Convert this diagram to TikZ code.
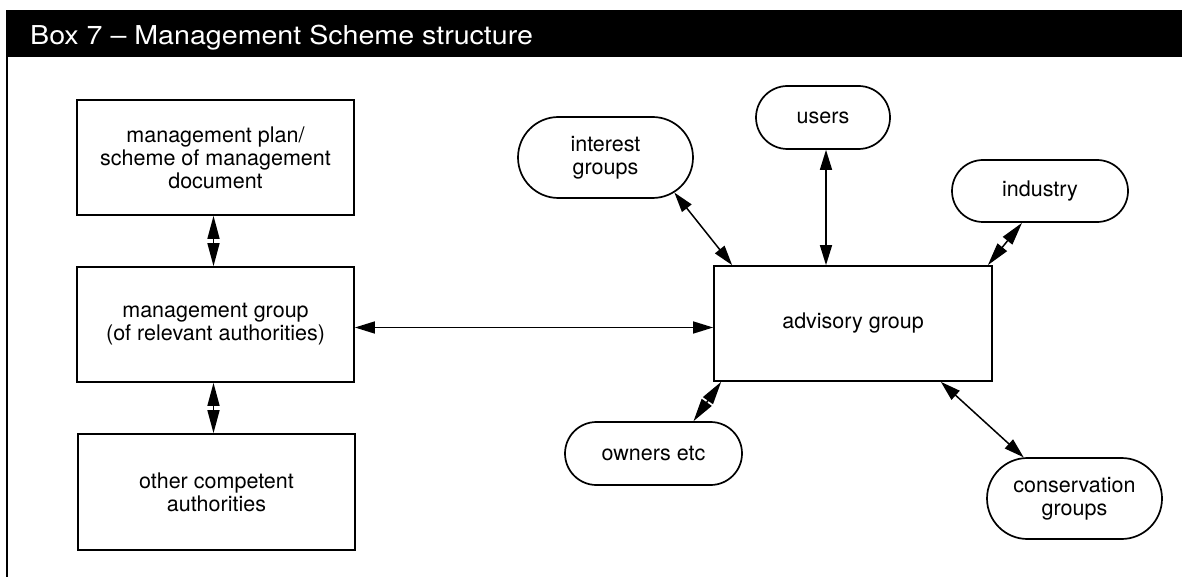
\documentclass[tikz,border=0pt]{standalone}
\usepackage{fontspec}
\setmainfont{TeX Gyre Heros}
\usetikzlibrary{arrows.meta,shapes.misc,calc}
\begin{document}
\begin{tikzpicture}[x=1pt,y=-1pt,
  txt/.style={font=\fontsize{21.5}{23}\selectfont, align=center, inner sep=0pt},
  sqbox/.style={txt, draw, line width=1.7pt, rectangle, minimum width=277pt, minimum height=115pt},
  rbox/.style={txt, draw, line width=1.7pt, rounded rectangle, rounded rectangle arc length=180},
  arr/.style={line width=1.5pt, {Triangle[length=20pt,width=12pt]}-{Triangle[length=20pt,width=12pt]}},
  sarr/.style={line width=1.5pt, {Triangle[length=23pt,width=12pt]}-{Triangle[length=23pt,width=12pt]}}
]
\useasboundingbox (0,0) rectangle (1182,577);
% header
\fill[black] (6,10) rectangle (1182,57);
\node[anchor=base west, inner sep=0pt, text=white, font=\fontsize{26}{28}\selectfont] (title) at (30,45) {\scalebox{1.1}[1]{Box 7 -- Management Scheme structure}};
\coordinate (ltop) at (7,57);
\coordinate (lbot) at (7,577);
\draw[line width=2pt] (ltop) -- (lbot);

% left column
\node[sqbox] (mp) at (215.5,157.5) {management plan/\\scheme of management\\document};
\node[sqbox] (mg) at (215.5,324.5) {management group\\(of relevant authorities)};
\node[sqbox, minimum height=116pt] (oca) at (216.5,492) {other competent\\authorities};

% advisory
\node[sqbox, minimum width=278pt] (adv) at (853,323.5) {advisory group};

% rounded
\node[rbox, minimum width=175pt, minimum height=81pt] (ig) at (605.5,157.5) {interest\\groups};
\node[rbox, minimum width=134pt, minimum height=63pt] (usr) at (823,117.5) {users};
\node[rbox, minimum width=176pt, minimum height=62pt] (ind) at (1040,191) {industry};
\node[rbox, minimum width=177pt, minimum height=63pt] (own) at (653.5,453.5) {owners etc};
\node[rbox, minimum width=175pt, minimum height=81pt] (cons) at (1074.5,498.5) {conservation\\groups};

% connectors
\draw[sarr] ([xshift=-2pt]mp.south) -- ([xshift=-2pt]mg.north);
\draw[sarr] ([xshift=-2pt]mg.south) -- ([xshift=-2pt]mg.south |- oca.north);
\draw[arr] ([yshift=-3pt]mg.east) -- ([yshift=-3pt]mg.east -| adv.west);
\draw[arr] (ig.-27) -- ([xshift=19pt]adv.north west);
\draw[arr] ([xshift=3pt]usr.south) -- ([xshift=3pt]usr.south |- adv.north);
\draw[sarr] ([xshift=-18pt]ind.south) -- ([xshift=-5pt]adv.north east);
\draw[sarr] ([xshift=8pt]adv.south west) -- ([xshift=40pt]own.north);
\draw[arr] ([xshift=-52pt]adv.south east) -- (cons.141);
\end{tikzpicture}
\end{document}
